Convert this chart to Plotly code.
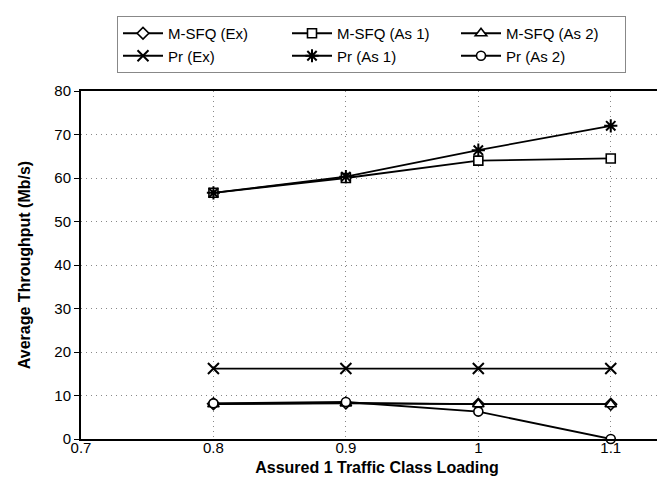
import plotly.graph_objects as go

loading = [0.8, 0.9, 1.0, 1.1]
msfq_ex = [8.1, 8.3, 8.0, 8.0]
msfq_as1 = [56.6, 60.0, 64.0, 64.5]
msfq_as2 = [8.0, 8.2, 8.0, 8.0]
pr_ex = [16.2, 16.2, 16.2, 16.2]
pr_as1 = [56.6, 60.3, 66.4, 72.0]
pr_as2 = [8.2, 8.5, 6.3, 0.0]

series_names = ["M-SFQ (Ex)", "M-SFQ (As 1)", "M-SFQ (As 2)", "Pr (Ex)", "Pr (As 1)", "Pr (As 2)"]
series_values = [msfq_ex, msfq_as1, msfq_as2, pr_ex, pr_as1, pr_as2]
symbols = ["diamond", "square", "triangle-up", "x-thin", "asterisk", "circle"]
filled = [True, True, True, False, False, True]
sizes = [9, 9, 10, 11, 11, 9]

x_ticks = [0.7, 0.8, 0.9, 1.0, 1.1]
x_ticklabels = ["0.7", "0.8", "0.9", "1", "1.1"]
y_ticks = [0, 10, 20, 30, 40, 50, 60, 70, 80]

fig = go.Figure()
for name, vals, sym, fl, sz in zip(series_names, series_values, symbols, filled, sizes):
    if fl:
        marker = dict(symbol=sym, size=sz, color="white", line=dict(color="black", width=1.6))
    else:
        marker = dict(symbol=sym, size=sz, color="black", line=dict(color="black", width=2))
    fig.add_trace(go.Scatter(
        x=loading, y=vals, name=name, mode="lines+markers",
        line=dict(color="black", width=1.8), marker=marker, cliponaxis=False,
    ))

font_family = "Liberation Sans, Arial, sans-serif"
grid_dash = "1px,4px"
fig.update_layout(
    width=665, height=481,
    margin=dict(l=73, r=0, t=83, b=50),
    paper_bgcolor="white", plot_bgcolor="white",
    font=dict(family=font_family, size=15, color="black"),
    showlegend=True,
    legend=dict(
        orientation="h", x=(109 - 73) / 592, xanchor="left",
        y=1 + (83 - 8) / 348, yanchor="top",
        entrywidth=114, entrywidthmode="pixels",
        bordercolor="#888888", borderwidth=1, bgcolor="white",
        font=dict(size=15, family=font_family),
        traceorder="normal", itemwidth=40,
    ),
    xaxis=dict(
        range=[0.7, 1.147], tickvals=x_ticks, ticktext=x_ticklabels,
        showgrid=True, gridcolor="#888888", griddash=grid_dash, gridwidth=1,
        showline=True, linecolor="black", linewidth=2, mirror=True,
        ticks="", ticklabelstandoff=-6,
        zeroline=False,
        title=dict(text="<b>Assured 1 Traffic Class Loading</b>", font=dict(size=16), standoff=7),
    ),
    yaxis=dict(
        range=[0, 80], tickvals=y_ticks,
        showgrid=True, gridcolor="#888888", griddash=grid_dash, gridwidth=1,
        showline=True, linecolor="black", linewidth=2, mirror=False,
        ticks="outside", ticklen=5, tickcolor="black",
        zeroline=False,
        title=dict(text="<b>Average Throughput (Mb/s)</b>", font=dict(size=16), standoff=20),
    ),
)

fig.write_html("out.html")
